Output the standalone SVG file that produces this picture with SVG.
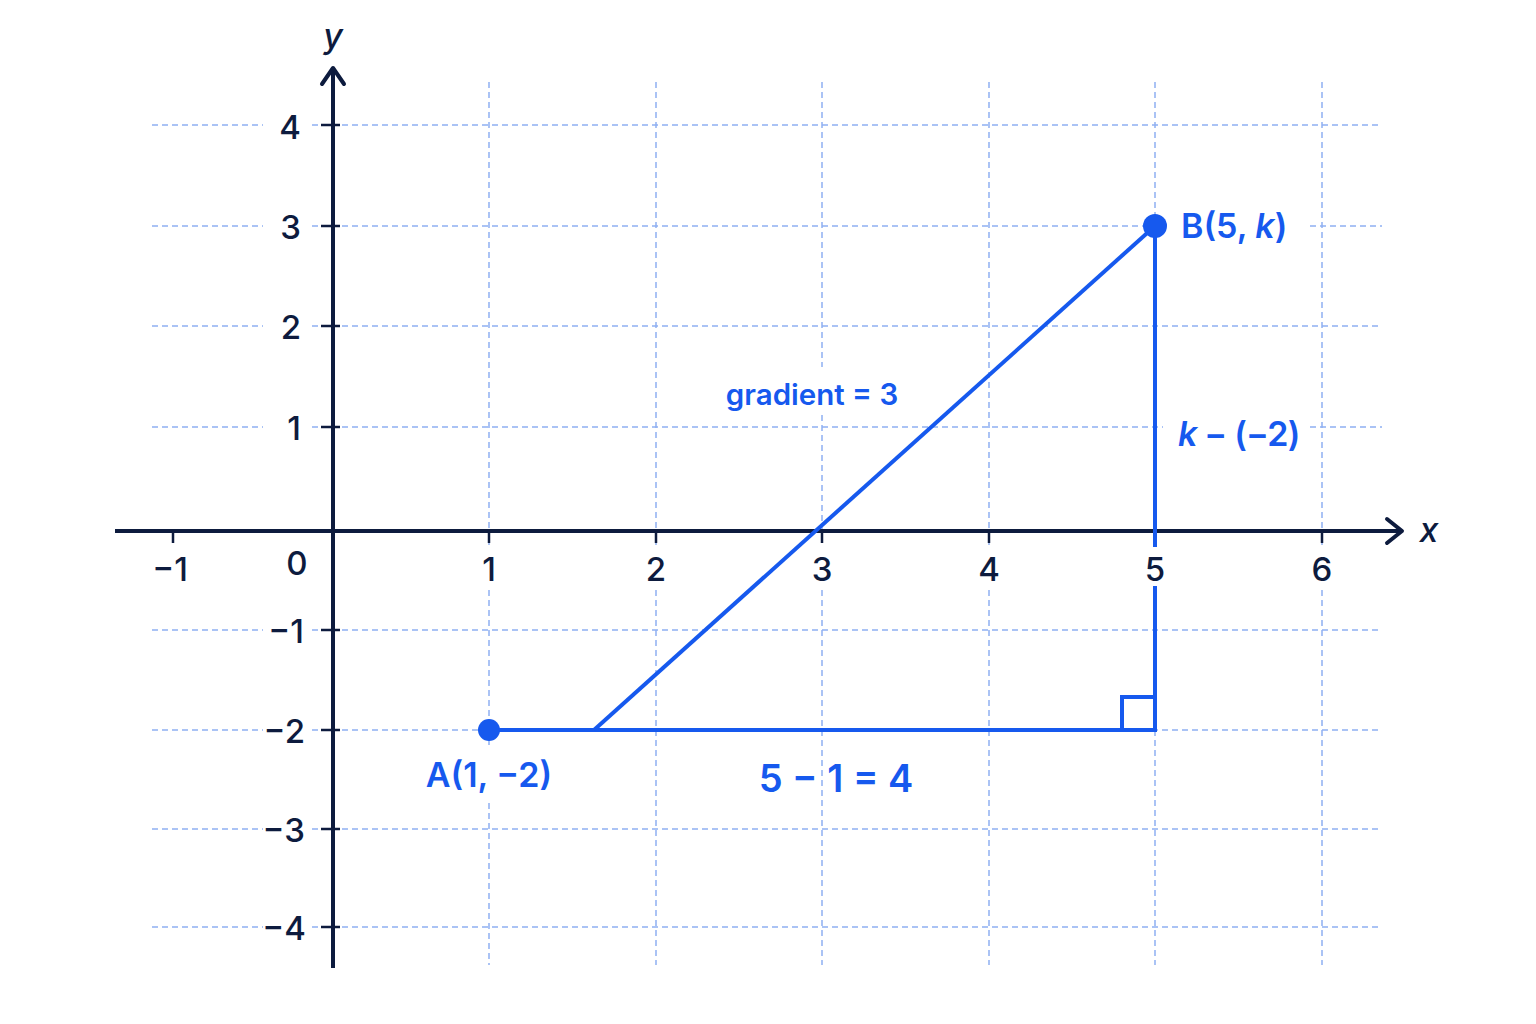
<svg xmlns="http://www.w3.org/2000/svg" width="1536" height="1024" viewBox="0 0 1536 1024">
  <style>
    .grid { stroke: #8fb0f2; stroke-width: 1.5; stroke-dasharray: 6 4; fill: none; }
    .axis { stroke: #0d1b3e; stroke-width: 4; fill: none; stroke-linecap: butt; }
    .tick { stroke: #0d1b3e; stroke-width: 2.5; }
    .arrow { stroke: #0d1b3e; stroke-width: 4; fill: none; stroke-linecap: round; stroke-linejoin: round; }
    .num { font-family: Inter, "Liberation Sans", sans-serif; font-size: 33px; font-weight: 500; fill: #0d1b3e; }
    .axlab { font-family: Inter, "Liberation Sans", sans-serif; font-size: 34px; font-style: italic; font-weight: 500; fill: #0d1b3e; }
    .blue { stroke: #1659ee; stroke-width: 4; fill: none; }
    .dot { fill: #1659ee; }
    .bl { font-family: Inter, "Liberation Sans", sans-serif; font-weight: 600; fill: #1659ee; }
  </style>
  <rect width="1536" height="1024" fill="#ffffff"/>

  <g id="grid">
    <path class="grid" d="M152 125H263M312 125H1382"/>
    <path class="grid" d="M152 226H263M312 226H1163M1310 226H1382"/>
    <path class="grid" d="M152 326H263M312 326H1382"/>
    <path class="grid" d="M152 427H263M312 427H1163M1310 427H1382"/>
    <path class="grid" d="M152 630H263M312 630H1382"/>
    <path class="grid" d="M152 730H263M312 730H1382"/>
    <path class="grid" d="M152 829H263M312 829H1382"/>
    <path class="grid" d="M152 927H263M312 927H1382"/>
    <path class="grid" d="M489 82V545M489 590V745M489 803V965"/>
    <path class="grid" d="M656 82V545M656 590V965"/>
    <path class="grid" d="M822 82V367M822 415V545M822 590V965"/>
    <path class="grid" d="M989 82V545M989 590V965"/>
    <path class="grid" d="M1155 82V545M1155 590V965"/>
    <path class="grid" d="M1322 82V545M1322 590V965"/>
  </g>

  <g id="axes">
    <line class="axis" x1="333" y1="69" x2="333" y2="968"/>
    <polyline class="arrow" points="322,84 333,68 344,84"/>
    <line class="axis" x1="115" y1="531" x2="1400" y2="531"/>
    <polyline class="arrow" points="1387,519 1402,531 1387,543"/>
    <g id="yticks">
      <line class="tick" x1="321" y1="125" x2="340" y2="125"/>
      <line class="tick" x1="321" y1="226" x2="340" y2="226"/>
      <line class="tick" x1="321" y1="326" x2="340" y2="326"/>
      <line class="tick" x1="321" y1="427" x2="340" y2="427"/>
      <line class="tick" x1="321" y1="630" x2="340" y2="630"/>
      <line class="tick" x1="321" y1="730" x2="340" y2="730"/>
      <line class="tick" x1="321" y1="829" x2="340" y2="829"/>
      <line class="tick" x1="321" y1="927" x2="340" y2="927"/>
    </g>
    <g id="xticks">
      <line class="tick" x1="173" y1="531" x2="173" y2="543"/>
      <line class="tick" x1="489" y1="531" x2="489" y2="543"/>
      <line class="tick" x1="656" y1="531" x2="656" y2="543"/>
      <line class="tick" x1="822" y1="531" x2="822" y2="543"/>
      <line class="tick" x1="989" y1="531" x2="989" y2="543"/>
      <line class="tick" x1="1322" y1="531" x2="1322" y2="543"/>
    </g>
    <text class="axlab" x="333" y="48" text-anchor="middle">y</text>
    <text class="axlab" x="1429" y="542" text-anchor="middle">x</text>
  </g>

  <g id="ylabels" text-anchor="end">
    <text class="num" x="301" y="139">4</text>
    <text class="num" x="301" y="239">3</text>
    <text class="num" x="301" y="339">2</text>
    <text class="num" x="301" y="440">1</text>
    <text class="num" x="304" y="643">−1</text>
    <text class="num" x="305" y="743">−2</text>
    <text class="num" x="305" y="842">−3</text>
    <text class="num" x="306" y="940">−4</text>
  </g>
  <g id="xlabels" text-anchor="middle">
    <text class="num" x="170" y="581">−1</text>
    <text class="num" x="297" y="575">0</text>
    <text class="num" x="489" y="581">1</text>
    <text class="num" x="656" y="581">2</text>
    <text class="num" x="822" y="581">3</text>
    <text class="num" x="989" y="581">4</text>
    <text class="num" x="1155" y="581">5</text>
    <text class="num" x="1322" y="581">6</text>
  </g>

  <g id="connectors">
    <line class="blue" x1="489" y1="730" x2="1157" y2="730"/>
    <line class="blue" x1="594" y1="730" x2="1155" y2="226"/>
    <path class="blue" d="M1155 226V547M1155 586V732"/>
    <rect class="blue" x="1122" y="697" width="33" height="33" stroke-width="3"/>
  </g>

  <g id="pointA">
    <circle class="dot" cx="489" cy="730" r="11"/>
    <text class="bl" x="489" y="787" font-size="34" font-weight="500" text-anchor="middle">A(1, −2)</text>
  </g>
  <g id="pointB">
    <circle class="dot" cx="1155" cy="226" r="12"/>
    <text class="bl" x="1181" y="238" font-size="34" font-weight="500">B(5, <tspan font-style="italic">k</tspan>)</text>
  </g>
  <g id="labels">
    <text class="bl" x="812" y="405" font-size="29.5" font-weight="500" text-anchor="middle">gradient = 3</text>
    <text class="bl" x="1178" y="446" font-size="34" font-weight="500" letter-spacing="-0.8"><tspan font-style="italic">k</tspan> − (−2)</text>
    <text class="bl" x="836" y="792" font-size="38" text-anchor="middle">5 − 1 = 4</text>
  </g>
</svg>
